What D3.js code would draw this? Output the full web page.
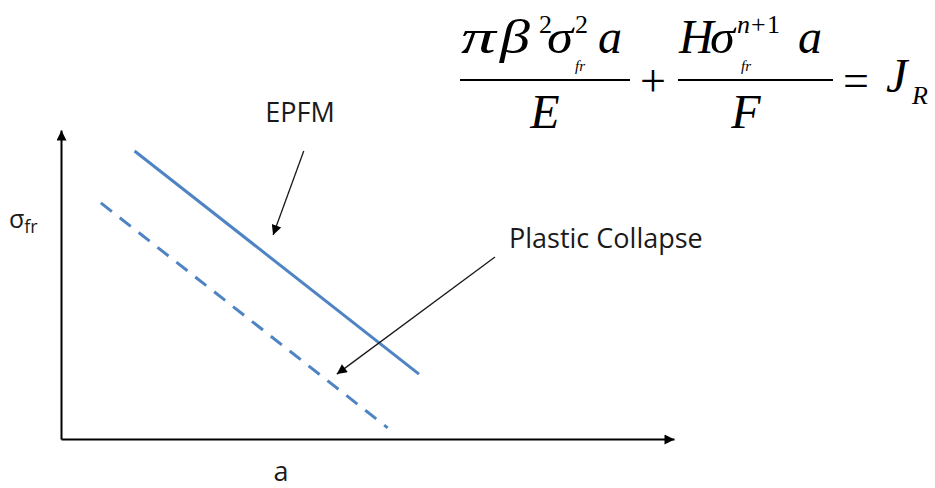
<!DOCTYPE html>
<html>
<head>
<meta charset="utf-8">
<script src="https://cdn.jsdelivr.net/npm/d3@7"></script>
<style>
  body { margin: 0; background: #fff; }
  .lbl { font-family: "Open Sans", sans-serif; fill: #1a1a1a; }
  .eq { font-family: "Liberation Serif", "Times New Roman", serif; font-style: italic; fill: #000; }
  .up { font-style: normal; }
</style>
</head>
<body>
<div id="chart"></div>
<script>
// schematic values (arbitrary units, 0..100 on both axes)
var seriesNames = ["EPFM", "Plastic Collapse"];
var seriesA     = [[12.0, 58.4], [6.5, 53.3]];   // crack size a, start / end
var seriesSigma = [[93.2, 21.0], [76.4, 3.6]];   // fracture stress, start / end
var seriesDash  = [false, true];

// annotation pointers: from label towards the line
var noteFromA     = [39.6, 70.8];
var noteFromSigma = [93.2, 58.9];
var noteToA       = [34.6, 45.0];
var noteToSigma   = [66.0, 21.0];

var xLabel = "a";

(function() {

    var width = 935, height = 488;
    var lineColor = "#4f84c4";

    var svg = d3.select("#chart")
        .append("svg")
        .attr("width", width)
        .attr("height", height);

    var defs = svg.append("defs");
    function arrowMarker(id, w, h) {
        defs.append("marker")
            .attr("id", id)
            .attr("viewBox", "0 0 10 10")
            .attr("refX", 10)
            .attr("refY", 5)
            .attr("markerUnits", "userSpaceOnUse")
            .attr("markerWidth", w)
            .attr("markerHeight", h)
            .attr("orient", "auto")
            .append("path")
            .attr("d", "M0,0 L10,5 L0,10 Z")
            .attr("fill", "#000");
    }
    arrowMarker("axisArrow", 11, 10);
    arrowMarker("noteArrow", 12, 10);

    // scales
    var x = d3.scaleLinear().domain([0, 100]).range([61, 674]);
    var y = d3.scaleLinear().domain([0, 100]).range([439, 130]);

    // axes, no ticks, only the arrowed spines
    svg.append("g")
        .attr("transform", "translate(0," + y(0) + ")")
        .call(d3.axisBottom(x).ticks(0).tickSizeOuter(0))
        .select(".domain")
        .attr("stroke", "#000")
        .attr("stroke-width", 2)
        .attr("marker-end", "url(#axisArrow)");

    svg.append("g")
        .attr("transform", "translate(" + x(0) + ",0)")
        .call(d3.axisLeft(y).ticks(0).tickSizeOuter(0))
        .select(".domain")
        .attr("stroke", "#000")
        .attr("stroke-width", 2)
        .attr("marker-end", "url(#axisArrow)");

    // the two failure lines
    var line = d3.line()
        .x(function(d) { return x(d[0]); })
        .y(function(d) { return y(d[1]); });

    seriesNames.forEach(function(name, i) {
        var pts = d3.zip(seriesA[i], seriesSigma[i]);
        svg.append("path")
            .datum(pts)
            .attr("d", line)
            .attr("fill", "none")
            .attr("stroke", lineColor)
            .attr("stroke-width", 3)
            .attr("stroke-dasharray", seriesDash[i] ? "14,10" : null);
    });

    // pointers
    seriesNames.forEach(function(name, i) {
        svg.append("path")
            .datum([[noteFromA[i], noteFromSigma[i]], [noteToA[i], noteToSigma[i]]])
            .attr("d", line)
            .attr("stroke", "#1a1a1a")
            .attr("stroke-width", 1.3)
            .attr("marker-end", "url(#noteArrow)");
    });

    // labels
    svg.append("text").attr("class", "lbl")
        .attr("x", 300).attr("y", 122)
        .attr("text-anchor", "middle")
        .style("font-size", "27px")
        .text(seriesNames[0]);

    svg.append("text").attr("class", "lbl")
        .attr("x", 509).attr("y", 248)
        .style("font-size", "27px")
        .text(seriesNames[1]);

    svg.append("text").attr("class", "lbl")
        .attr("x", 281).attr("y", 481)
        .attr("text-anchor", "middle")
        .style("font-size", "27px")
        .text(xLabel);

    var yl = svg.append("text").attr("class", "lbl")
        .attr("x", 9).attr("y", 228)
        .style("font-size", "25px");
    yl.append("tspan").text("σ");
    yl.append("tspan").attr("dy", 5).style("font-size", "18px").text("fr");

    // equation
    var eq = svg.append("g");
    function glyph(txt, gx, gy, size, upright, sx) {
        eq.append("text")
            .attr("class", upright ? "eq up" : "eq")
            .attr("transform", "translate(" + gx + "," + gy + ") scale(" + (sx || 1) + ",1)")
            .style("font-size", size + "px")
            .text(txt);
    }
    function bar(x1, x2) {
        eq.append("line")
            .attr("x1", x1).attr("x2", x2)
            .attr("y1", 80).attr("y2", 80)
            .attr("stroke", "#000").attr("stroke-width", 2);
    }

    // first term
    glyph("π", 461, 53, 48, false, 1.45);
    glyph("β", 500, 53, 48, false, 1.25);
    glyph("2", 539, 33, 26, true);
    glyph("σ", 547, 53, 48, false, 1.1);
    glyph("2", 575, 33, 26, true);
    glyph("fr", 575, 71, 15);
    glyph("a", 598, 53, 48);
    bar(460, 630);
    eq.append("text").attr("class", "eq")
        .attr("x", 545).attr("y", 128)
        .attr("text-anchor", "middle")
        .style("font-size", "48px")
        .text("E");

    glyph("+", 640, 96, 46, true);

    // second term
    glyph("H", 679, 53, 48);
    glyph("σ", 710, 53, 48, false, 1.05);
    glyph("n", 737, 33, 26);
    glyph("+", 751, 33, 26, true);
    glyph("1", 767, 33, 26, true);
    glyph("fr", 741, 71, 15);
    glyph("a", 798, 53, 48);
    bar(678, 833);
    eq.append("text").attr("class", "eq")
        .attr("x", 746).attr("y", 128)
        .attr("text-anchor", "middle")
        .style("font-size", "48px")
        .text("F");

    glyph("=", 843, 96, 46, true);
    glyph("J", 886, 92, 48);
    glyph("R", 912, 104, 26);

})();
</script>
</body>
</html>
